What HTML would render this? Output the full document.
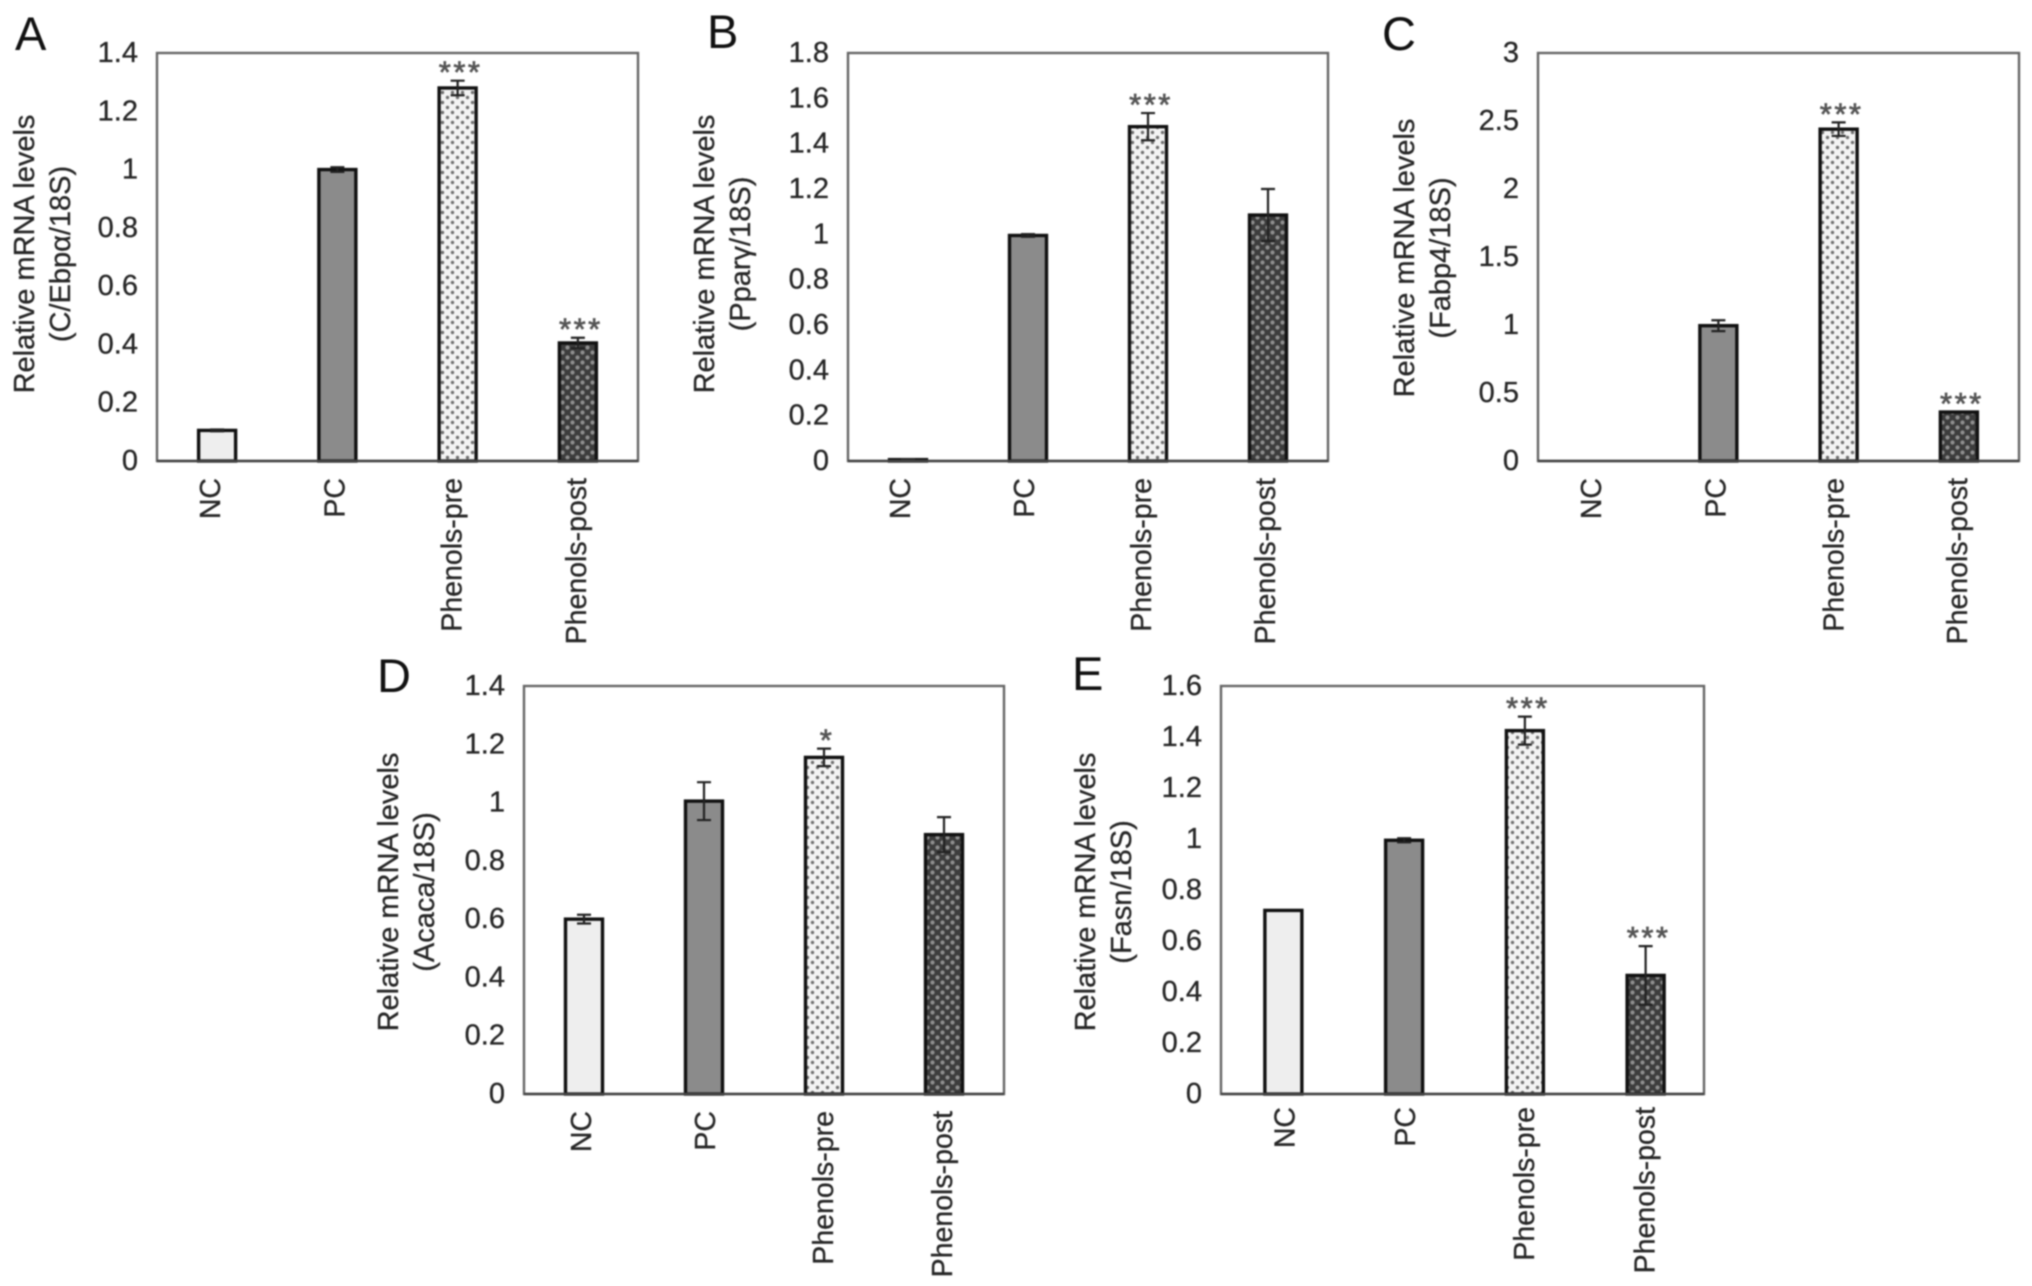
<!DOCTYPE html>
<html lang="en">
<head>
<meta charset="utf-8">
<title>Relative mRNA levels by treatment group</title>
<style>
html,body{margin:0;padding:0;background:#fff;width:2032px;height:1286px;overflow:hidden}
svg{display:block;filter:blur(0.7px)}
text{font-family:"Liberation Sans",Arial,sans-serif;fill:#262626;stroke:#262626;stroke-width:.3}
</style>
</head>
<body>
<svg id="figure" xmlns="http://www.w3.org/2000/svg" width="2032" height="1286" viewBox="0 0 2032 1286">
<defs>
<pattern id="dots-light" patternUnits="userSpaceOnUse" width="10" height="10">
<rect width="10" height="10" fill="#f3f3f3"/>
<circle cx="2.5" cy="2.5" r="1.7" fill="#707070"/>
<circle cx="7.5" cy="7.5" r="1.7" fill="#707070"/>
</pattern>
<pattern id="dots-dark" patternUnits="userSpaceOnUse" width="10" height="10">
<rect width="10" height="10" fill="#3d3d3d"/>
<circle cx="2.5" cy="2.5" r="2.1" fill="#8f8f8f"/>
<circle cx="7.5" cy="7.5" r="2.1" fill="#8f8f8f"/>
</pattern>
</defs>
</svg>
<script>
// ---- Chart data ----
const categories = ["NC", "PC", "Phenols-pre", "Phenols-post"];

const ticksA = ["0", "0.2", "0.4", "0.6", "0.8", "1", "1.2", "1.4"];
const valuesA = [0.105, 1.0, 1.28, 0.405];
const errorsA = [0.003, 0.008, 0.025, 0.018];
const starsA = ["", "", "***", "***"];

const ticksB = ["0", "0.2", "0.4", "0.6", "0.8", "1", "1.2", "1.4", "1.6", "1.8"];
const valuesB = [0.006, 0.995, 1.475, 1.085];
const errorsB = [0.002, 0.006, 0.06, 0.115];
const starsB = ["", "", "***", ""];

const ticksC = ["0", "0.5", "1", "1.5", "2", "2.5", "3"];
const valuesC = [0, 0.995, 2.44, 0.36];
const errorsC = [0, 0.04, 0.05, 0];
const starsC = ["", "", "***", "***"];

const ticksD = ["0", "0.2", "0.4", "0.6", "0.8", "1", "1.2", "1.4"];
const valuesD = [0.6, 1.005, 1.155, 0.89];
const errorsD = [0.015, 0.065, 0.03, 0.06];
const starsD = ["", "", "*", ""];

const ticksE = ["0", "0.2", "0.4", "0.6", "0.8", "1", "1.2", "1.4", "1.6"];
const valuesE = [0.72, 0.995, 1.425, 0.465];
const errorsE = [0, 0.008, 0.055, 0.115];
const starsE = ["", "", "***", "***"];

// ---- Layout (pixels) ----
const barFills = ["#eeeeee", "#8b8b8b", "url(#dots-light)", "url(#dots-dark)"];
const NS = "http://www.w3.org/2000/svg";
const figure = document.getElementById("figure");

function make(tag, attrs, parent, content) {
  const node = document.createElementNS(NS, tag);
  for (const key in attrs) node.setAttribute(key, attrs[key]);
  if (content !== undefined) node.textContent = content;
  parent.appendChild(node);
  return node;
}

function drawPanel(p) {
  const w = p.right - p.left;
  const h = p.bottom - p.top;
  const yMax = parseFloat(p.ticks[p.ticks.length - 1]);
  const yScale = v => p.bottom - (v / yMax) * h;
  const xScale = i => p.left + p.barShift + (i + 0.5) * w / p.categories.length;
  const barW = 37;

  const g = make("g", {}, figure);
  
  

  const letter = make("text", {x: p.letterX, y: p.letterY, "font-size": 47, style: "fill:#111;stroke:none"}, g, p.id);
  
  

  const frame = make("rect", {x: p.left, y: p.top, width: w, height: h, fill: "#fff", stroke: "#666", "stroke-width": 2.4}, g);
  
  

  p.ticks.forEach(t => {
    const label = make("text", {x: p.left - 19, y: yScale(parseFloat(t)) + 9, "text-anchor": "end", "font-size": 29}, g, t);
    
    
  });

  const titleX = p.titleX;
  const titleY = p.titleY;
  const title1 = make("text", {transform: `translate(${titleX},${titleY}) rotate(-90)`, "text-anchor": "middle", "font-size": 29}, g, "Relative mRNA levels");
  
  
  const title2 = make("text", {transform: `translate(${titleX + 36},${titleY}) rotate(-90)`, "text-anchor": "middle", "font-size": 29}, g, p.subtitle);
  
  

  p.categories.forEach((c, i) => {
    const cx = xScale(i);
    const v = p.values[i];
    const e = p.errors[i];

    if (v > 0) {
      const y = yScale(v);
      const bar = make("rect", {x: cx - barW / 2, y: y, width: barW, height: p.bottom - y, fill: barFills[i], stroke: "#111", "stroke-width": 3.4}, g);
      
      
    }

    if (e > 0) {
      const yHi = yScale(v + e);
      const yLo = yScale(v - e);
      const err = make("path", {d: `M${cx - 7} ${yHi}H${cx + 7}M${cx} ${yHi}V${yLo}M${cx - 7} ${yLo}H${cx + 7}`, fill: "none", stroke: "#222", "stroke-width": 2.2}, g);
      
      
    }

    if (p.stars[i]) {
      const star = make("text", {x: cx + 3, y: yScale(v + e) + 2, "text-anchor": "middle", "font-size": 31, "letter-spacing": 2.5, style: "fill:#555;stroke:#555;stroke-width:.7"}, g, p.stars[i]);
      
      
    }

    const tick = make("text", {transform: `translate(${cx + 6 + p.labelShift[i]},${p.bottom + p.labelGap}) rotate(-90)`, "text-anchor": "end", "font-size": 28.5}, g, c);
    
    
  });

  const baseline = make("line", {x1: p.left, x2: p.right, y1: p.bottom, y2: p.bottom, stroke: "#444", "stroke-width": 2.6}, g);
  
  
}

drawPanel({id: "A", left: 157, right: 638, top: 53, bottom: 461, barShift: 0, labelShift: [-3, 1, -2, 2], labelGap: 17, letterX: 15, letterY: 50, titleX: 34, titleY: 254, subtitle: "(C/Ebp\u03B1/18S)", categories, ticks: ticksA, values: valuesA, errors: errorsA, stars: starsA});
drawPanel({id: "B", left: 848, right: 1328, top: 53, bottom: 461, barShift: 0, labelShift: [-4, 0, -3, 1], labelGap: 17, letterX: 707, letterY: 48, titleX: 714, titleY: 254, subtitle: "(Ppar\u03B3/18S)", categories, ticks: ticksB, values: valuesB, errors: errorsB, stars: starsB});
drawPanel({id: "C", left: 1538, right: 2019, top: 53, bottom: 461, barShift: 0, labelShift: [-3, 1, -1, 2], labelGap: 17, letterX: 1382, letterY: 50, titleX: 1414, titleY: 258, subtitle: "(Fabp4/18S)", categories, ticks: ticksC, values: valuesC, errors: errorsC, stars: starsC});
drawPanel({id: "D", left: 524, right: 1004, top: 686, bottom: 1094, barShift: 0, labelShift: [1, 5, 3, 2], labelGap: 17, letterX: 377, letterY: 692, titleX: 398, titleY: 892, subtitle: "(Acaca/18S)", categories, ticks: ticksD, values: valuesD, errors: errorsD, stars: starsD});
drawPanel({id: "E", left: 1221, right: 1704, top: 686, bottom: 1094, barShift: 2, labelShift: [5, 5, 3, 3], labelGap: 13, letterX: 1072, letterY: 690, titleX: 1095, titleY: 892, subtitle: "(Fasn/18S)", categories, ticks: ticksE, values: valuesE, errors: errorsE, stars: starsE});
</script>
</body>
</html>
